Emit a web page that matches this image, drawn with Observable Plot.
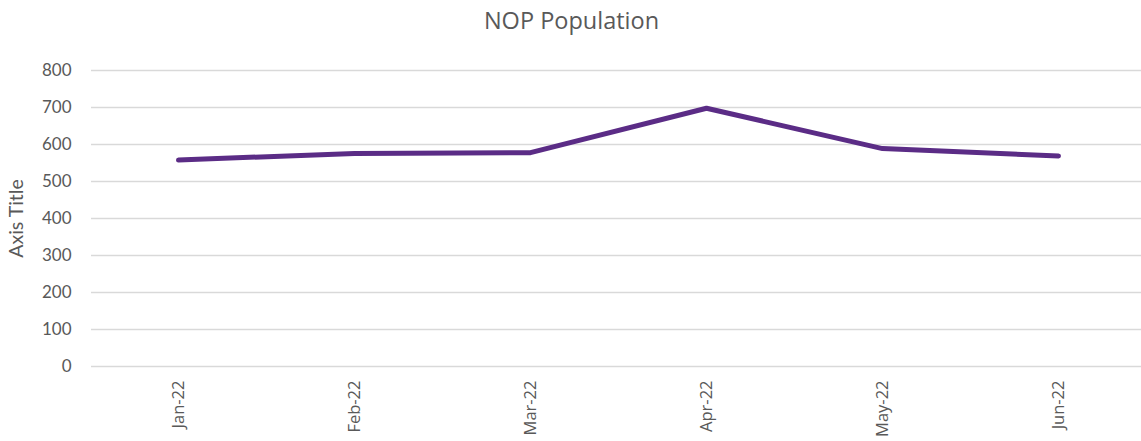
<!DOCTYPE html>
<html>
<head>
<meta charset="utf-8">
<script src="https://cdn.jsdelivr.net/npm/d3@7"></script>
<script src="https://cdn.jsdelivr.net/npm/@observablehq/plot@0.6"></script>
<style>
  html, body { margin: 0; padding: 0; background: #fff; }
  #title { width: 1141px; height: 40px; line-height: 40px; text-align: center; font-family: "Open Sans", sans-serif; font-size: 23.5px; color: #595959; padding-left: 2px; box-sizing: border-box; }
  #chart svg { display: block; }
</style>
</head>
<body>
<div id="title">NOP Population</div>
<div id="chart"></div>
<script>
const months = ["Jan-22", "Feb-22", "Mar-22", "Apr-22", "May-22", "Jun-22"];
const population = [558, 576, 578, 698, 589, 569];
const yTicks = [0, 100, 200, 300, 400, 500, 600, 700, 800];

const data = months.map((m, i) => ({month: m, value: population[i]}));

const chart = Plot.plot({
  width: 1141,
  height: 401,
  marginTop: 30,
  marginBottom: 75,
  marginLeft: 91,
  marginRight: 0,
  style: {fontFamily: "Open Sans, sans-serif", color: "#595959", background: "#fff"},
  x: {type: "point", domain: months, range: [178, 1058], padding: 0, label: null},
  y: {domain: [0, 800], label: null},
  marks: [
    Plot.gridY(yTicks, {stroke: "#d9d9d9", strokeOpacity: 1, strokeWidth: 1.3}),
    Plot.axisY(yTicks, {tickSize: 0, tickPadding: 20, fontSize: 17, fontFamily: "Lato, sans-serif", fill: "#595959",
      label: "Axis Title", labelAnchor: "center", labelArrow: "none", labelOffset: 82}),
    Plot.axisX(months, {tickSize: 0, tickPadding: 14, tickRotate: -90, fontSize: 16.5, fill: "#595959", label: null}),
    Plot.line(data, {x: "month", y: "value", stroke: "#5b2c86", strokeWidth: 5, strokeLinecap: "round", strokeLinejoin: "round"})
  ]
});
document.getElementById("chart").appendChild(chart);
chart.querySelectorAll("g[aria-label='y-axis label'] text").forEach(t => { t.setAttribute("font-size", "19.5"); });
</script>
</body>
</html>
